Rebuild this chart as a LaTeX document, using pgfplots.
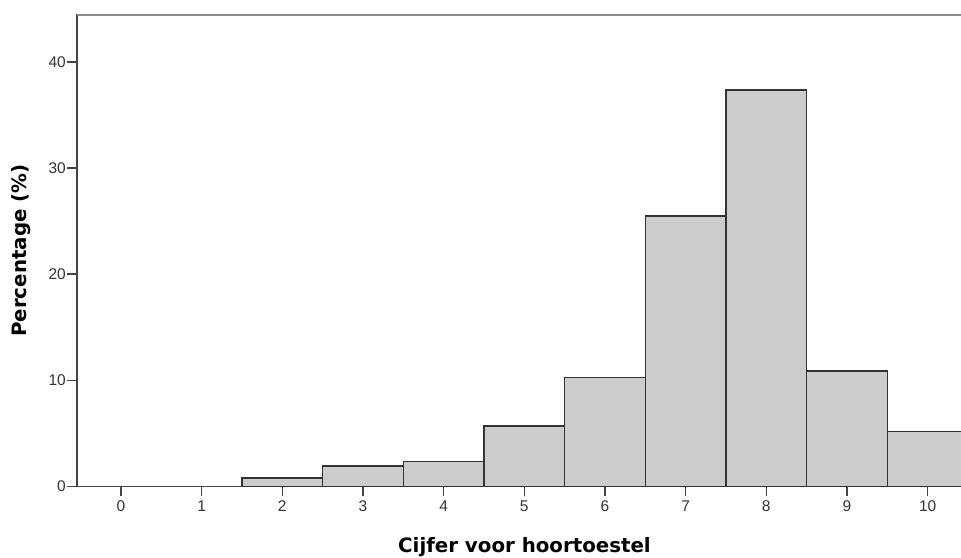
\documentclass[border=0pt]{standalone}
\usepackage{pgfplots}
\pgfplotsset{compat=1.18}
\usepackage{fontspec}
\setmainfont{Liberation Sans}
\newfontfamily\labelfont{DejaVu Sans}
\definecolor{barfill}{HTML}{CCCCCC}
\definecolor{edge}{HTML}{333333}
\definecolor{axisc}{HTML}{444444}
\definecolor{topc}{HTML}{8C8C8C}
\begin{document}
\begin{tikzpicture}[x=1pt,y=1pt]
\path[use as bounding box] (0,0) rectangle (961,557);
\begin{axis}[
  at={(77pt,70.7pt)}, anchor=south west,
  scale only axis, width=931.3pt, height=471.3pt,
  xmin=-0.545, xmax=11, ymin=0, ymax=44.43,
  xtick={0,1,...,10}, ytick={0,10,20,30,40},
  tick pos=left,
  tick align=outside, major tick length=10pt,
  tick style={axisc, line width=1.3pt},
  axis line style={axisc, line width=1.5pt},
  /pgf/number format/assume math mode=true,
  tick label style={font=\fontsize{15.5}{18}\selectfont, text=black!80},
  yticklabel style={inner sep=1pt},
  xticklabel style={inner sep=4pt},
  xlabel={Cijfer voor hoortoestel},
  ylabel={Percentage (\%)},
  every axis x label/.style={at={(axis description cs:0.4805,-0.1394)}, anchor=base,
    font=\labelfont\bfseries\fontsize{19.8}{23}\selectfont},
  every axis y label/.style={at={(axis description cs:-0.0601,0.5)}, rotate=90, anchor=center,
    font=\labelfont\bfseries\fontsize{19.8}{23}\selectfont},
]
\addplot[ybar, bar width=1, bar shift=0pt, fill=barfill, draw=edge, line width=1.5pt]
  coordinates {(2,0.78) (3,1.92) (4,2.36) (5,5.69) (6,10.25) (7,25.5) (8,37.36) (9,10.89) (10,5.17)};
\draw[topc, line width=2pt] (rel axis cs:0,1) -- (rel axis cs:1,1);
\end{axis}
\end{tikzpicture}
\end{document}
